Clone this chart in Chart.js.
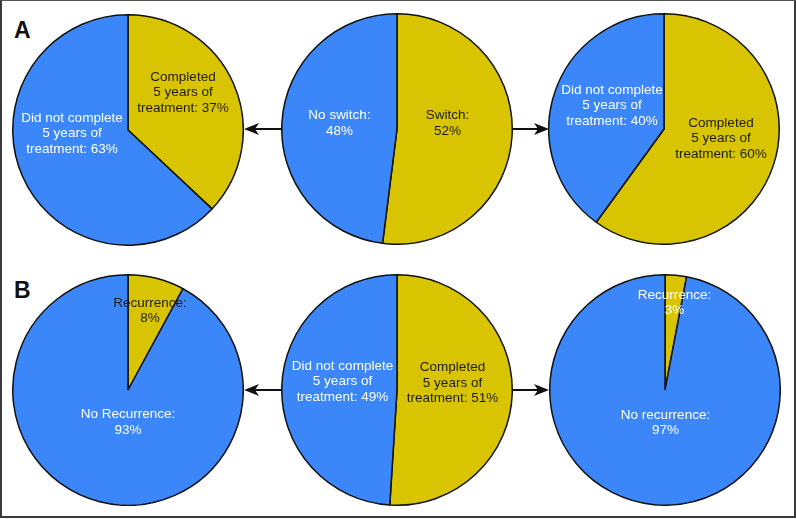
<!DOCTYPE html>
<html>
<head>
<meta charset="utf-8">
<script src="https://cdn.jsdelivr.net/npm/chart.js@4.4.0/dist/chart.umd.min.js"></script>
<style>
  html, body { margin: 0; padding: 0; background: #fff; }
  #frame { position: relative; width: 796px; height: 519px; overflow: hidden; }
  #edge { position: absolute; left: 0; top: 0; width: 796px; height: 518px; box-sizing: border-box;
          border: 2px solid #3a3a3a; border-top: 1.5px solid #555; pointer-events: none; }
  .pie { position: absolute; width: 232px; height: 232px; }
  svg { position: absolute; left: 0; top: 0; }
</style>
</head>
<body>
<div id="frame">
  <svg id="arrows" width="796" height="519"></svg>
  <div class="pie" style="left:12px;  top:14px;"><canvas id="a1"></canvas></div>
  <div class="pie" style="left:280.5px; top:13px;"><canvas id="a2"></canvas></div>
  <div class="pie" style="left:548px; top:12.5px;"><canvas id="a3"></canvas></div>
  <div class="pie" style="left:12px;  top:274px;"><canvas id="b1"></canvas></div>
  <div class="pie" style="left:280.5px; top:274px;"><canvas id="b2"></canvas></div>
  <div class="pie" style="left:548.5px; top:274px;"><canvas id="b3"></canvas></div>
  <div id="edge"></div>
</div>
<script>
// slice order: yellow slice first, clockwise from 12 o'clock
const labelsA1 = ['Completed\n5 years of\ntreatment: ', 'Did not complete\n5 years of\ntreatment: '];
const valuesA1 = [37, 63];
const labelsA2 = ['Switch:\n', 'No switch:\n'];
const valuesA2 = [52, 48];
const labelsA3 = ['Completed\n5 years of\ntreatment: ', 'Did not complete\n5 years of\ntreatment: '];
const valuesA3 = [60, 40];
const labelsB1 = ['Recurrence:\n', 'No Recurrence:\n'];
const valuesB1 = [8, 93];
const labelsB2 = ['Completed\n5 years of\ntreatment: ', 'Did not complete\n5 years of\ntreatment: '];
const valuesB2 = [51, 49];
const labelsB3 = ['Recurrence:\n', 'No recurrence:\n'];
const valuesB3 = [3, 97];

const YELLOW = '#d8c400';
const BLUE = '#3b87fa';
const DARK = '#1c1c1c';
const FONT = '13.5px "Liberation Sans", Arial, sans-serif';
const LINE_H = 15.5;

// text block offsets from pie centre, per slice
const pies = [
  { id: 'a1', labels: labelsA1, values: valuesA1, text: [[55, -37.5, DARK], [-56, 3.5, '#fff']] },
  { id: 'a2', labels: labelsA2, values: valuesA2, text: [[50.5, -5.5, DARK], [-57.5, -5.5, '#fff']] },
  { id: 'a3', labels: labelsA3, values: valuesA3, text: [[57, 9.5, DARK], [-52, -23.5, '#fff']] },
  { id: 'b1', labels: labelsB1, values: valuesB1, text: [[22, -79, DARK], [0, 32.5, '#fff']] },
  { id: 'b2', labels: labelsB2, values: valuesB2, text: [[55.5, -7, DARK], [-54.5, -8.5, '#fff']] },
  { id: 'b3', labels: labelsB3, values: valuesB3, text: [[9.5, -87.3, '#fff'], [0.5, 33, '#fff']] }
];

const sliceText = {
  id: 'sliceText',
  afterDatasetsDraw(chart, args, opts) {
    const ctx = chart.ctx;
    const arc = chart.getDatasetMeta(0).data[0];
    const labels = chart.data.labels, vals = chart.data.datasets[0].data;
    ctx.save();
    ctx.font = FONT;
    ctx.textAlign = 'center';
    ctx.textBaseline = 'middle';
    labels.forEach((lab, i) => {
      const [dx, dy, col] = opts.pos[i];
      const lines = (lab + vals[i] + '%').split('\n');
      const y0 = arc.y + dy - (lines.length - 1) * LINE_H / 2;
      ctx.fillStyle = col;
      lines.forEach((ln, k) => ctx.fillText(ln, arc.x + dx, y0 + k * LINE_H));
    });
    ctx.restore();
  }
};

pies.forEach(p => {
  new Chart(document.getElementById(p.id), {
    type: 'pie',
    data: {
      labels: p.labels,
      datasets: [{
        data: p.values,
        backgroundColor: [YELLOW, BLUE],
        borderColor: '#111',
        borderWidth: 1.5
      }]
    },
    options: {
      responsive: true,
      maintainAspectRatio: false,
      animation: false,
      events: [],
      layout: { padding: 0 },
      plugins: {
        legend: { display: false },
        tooltip: { enabled: false },
        sliceText: { pos: p.text }
      }
    },
    plugins: [sliceText]
  });
});

// arrows between pies: [from x, tip x, y]
const arrows = [[282, 244, 129], [511, 549, 129], [282, 244, 390], [511, 549, 390]];
const svg = document.getElementById('arrows');
let out = '';
arrows.forEach(([x0, x1, y]) => {
  const d = x1 > x0 ? 1 : -1;
  const back = x1 - d * 15, notch = x1 - d * 11;
  out += `<line x1="${x0}" y1="${y}" x2="${notch}" y2="${y}" stroke="#111" stroke-width="2"/>`;
  out += `<path d="M${x1},${y} L${back},${y - 6} L${notch},${y} L${back},${y + 6} Z" fill="#111"/>`;
});
// panel letters
out += '<text x="14" y="38" font-family="Liberation Sans, Arial, sans-serif" font-weight="bold" font-size="23" fill="#111">A</text>';
out += '<text x="14" y="298" font-family="Liberation Sans, Arial, sans-serif" font-weight="bold" font-size="23" fill="#111">B</text>';
svg.innerHTML = out;
</script>
</body>
</html>
